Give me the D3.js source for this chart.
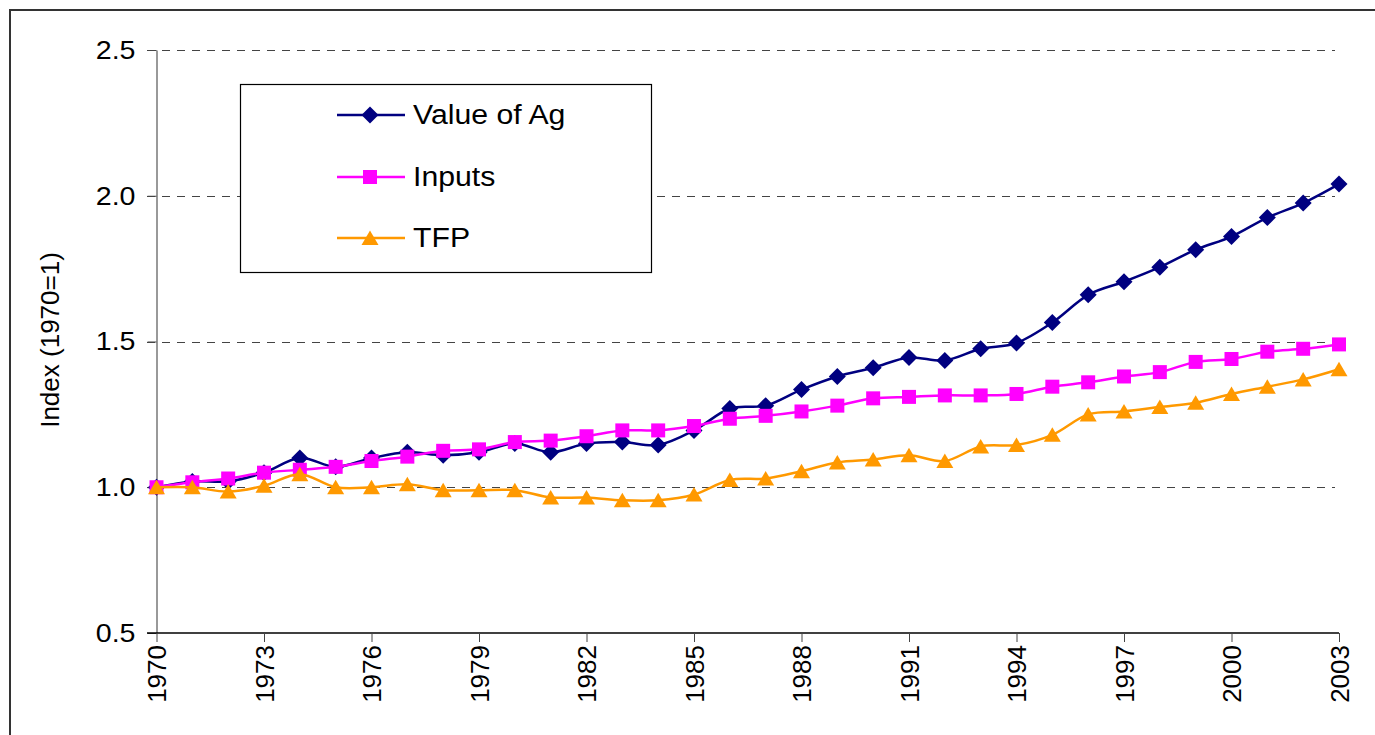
<!DOCTYPE html>
<html>
<head>
<meta charset="utf-8">
<script src="https://cdn.jsdelivr.net/npm/d3@7"></script>
<style>
  html, body { margin: 0; padding: 0; background: #fff; }
  svg { display: block; font-family: "Liberation Sans", Arial, sans-serif; }
</style>
</head>
<body>
<svg id="chart" width="1375" height="735"></svg>
<script>
// index values, 1970 = 1
const years = d3.range(1970, 2004);

const valueOfAg = [1.00, 1.02, 1.02, 1.05, 1.10, 1.07, 1.10, 1.12, 1.11, 1.12,
  1.15, 1.12, 1.15, 1.155, 1.145, 1.195, 1.27, 1.28, 1.335, 1.38,
  1.41, 1.445, 1.435, 1.475, 1.495, 1.565, 1.66, 1.705, 1.755, 1.815,
  1.86, 1.925, 1.975, 2.04];

const inputs = [1.00, 1.017, 1.03, 1.05, 1.06, 1.07, 1.09, 1.105, 1.125, 1.13,
  1.155, 1.16, 1.175, 1.195, 1.195, 1.21, 1.235, 1.245, 1.26, 1.28,
  1.305, 1.31, 1.315, 1.315, 1.32, 1.345, 1.36, 1.38, 1.395, 1.43,
  1.44, 1.465, 1.475, 1.49];

const tfp = [1.00, 1.00, 0.985, 1.005, 1.045, 1.00, 1.00, 1.01, 0.99, 0.99,
  0.99, 0.965, 0.965, 0.955, 0.955, 0.975, 1.025, 1.03, 1.055, 1.085,
  1.095, 1.11, 1.09, 1.14, 1.145, 1.18, 1.25, 1.26, 1.275, 1.29,
  1.32, 1.345, 1.37, 1.405];

const yTicks = [0.5, 1.0, 1.5, 2.0, 2.5];
const xTicks = d3.range(1970, 2004, 3);

const seriesList = [
  { name: 'Value of Ag', values: valueOfAg, color: '#000080', marker: 'diamond' },
  { name: 'Inputs', values: inputs, color: '#ff00ff', marker: 'square' },
  { name: 'TFP', values: tfp, color: '#ff9900', marker: 'triangle' },
];

const svg = d3.select('#chart');

// outer chart frame (right/bottom edges fall outside the picture)
svg.append('rect')
  .attr('x', 10).attr('y', 10)
  .attr('width', 1400).attr('height', 800)
  .attr('fill', 'none')
  .attr('stroke', '#333')
  .attr('stroke-width', 2);

const x = d3.scaleLinear().domain([1970, 2003]).range([156.5, 1339]);
const y = d3.scaleLinear().domain([0.5, 2.5]).range([633, 50]);

// dashed gridlines
svg.append('g')
  .selectAll('line')
  .data(yTicks.filter((d) => d > 0.5))
  .enter()
  .append('line')
  .attr('x1', 147)
  .attr('x2', x(2003) - 4)
  .attr('y1', (d) => Math.round(y(d)) + 0.5)
  .attr('y2', (d) => Math.round(y(d)) + 0.5)
  .attr('stroke', '#444')
  .attr('stroke-width', 1)
  .attr('stroke-dasharray', '8,7');

// y axis
const yAxis = svg.append('g')
  .attr('transform', `translate(${x(1970)},0)`)
  .call(d3.axisLeft(y).tickValues(yTicks).tickFormat(d3.format('.1f')).tickSize(9).tickSizeOuter(0));
yAxis.select('.domain').attr('stroke', '#777').attr('stroke-width', 1.5);
yAxis.selectAll('.tick line').attr('stroke', '#444');
yAxis.selectAll('.tick text')
  .attr('x', 0)
  .attr('transform', 'translate(-21,0) scale(1.1,1)')
  .attr('font-size', 26)
  .attr('font-family', '"Liberation Sans", Arial, sans-serif')
  .attr('fill', '#000');

// x axis
const xAxis = svg.append('g')
  .attr('transform', `translate(0,${y(0.5)})`)
  .call(d3.axisBottom(x).tickValues(xTicks).tickFormat(d3.format('d')).tickSize(9).tickSizeOuter(0));
xAxis.select('.domain').attr('stroke', '#000').attr('stroke-width', 1.5)
  .attr('d', `M147,0H${x(2003)}`);
xAxis.selectAll('.tick line').attr('stroke', '#444');
xAxis.selectAll('.tick text')
  .attr('font-size', 26)
  .attr('font-family', '"Liberation Sans", Arial, sans-serif')
  .attr('fill', '#000')
  .attr('transform', 'rotate(-90)')
  .attr('text-anchor', 'end')
  .attr('x', -12)
  .attr('y', 0)
  .attr('dy', '0.36em');

// y axis title
svg.append('text')
  .attr('transform', 'translate(50,340) rotate(-90)')
  .attr('text-anchor', 'middle')
  .attr('dominant-baseline', 'central')
  .attr('font-size', 26)
  .text('Index (1970=1)');

const symbolFor = {
  diamond: (g, c) => g.append('path').attr('d', 'M0,-8.5L8.5,0L0,8.5L-8.5,0Z').attr('fill', c),
  square: (g, c) => g.append('rect').attr('x', -7).attr('y', -7).attr('width', 14).attr('height', 14).attr('fill', c),
  triangle: (g, c) => g.append('path').attr('d', 'M0,-7.5L8.5,7L-8.5,7Z').attr('fill', c),
};

const line = d3.line()
  .curve(d3.curveCatmullRom.alpha(0))
  .x((d) => x(d.year))
  .y((d) => y(d.value));

seriesList.forEach((s) => {
  const pts = years.map((yr, i) => ({ year: yr, value: s.values[i] }));
  const g = svg.append('g');
  g.append('path')
    .attr('d', line(pts))
    .attr('fill', 'none')
    .attr('stroke', s.color)
    .attr('stroke-width', 2.5);
  g.selectAll('g.m')
    .data(pts)
    .enter()
    .append('g')
    .attr('class', 'm')
    .attr('transform', (d) => `translate(${x(d.year)},${y(d.value)})`)
    .each(function () { symbolFor[s.marker](d3.select(this), s.color); });
});

// legend
const legend = svg.append('g');
legend.append('rect')
  .attr('x', 240.5).attr('y', 84.5)
  .attr('width', 411).attr('height', 188)
  .attr('fill', '#fff')
  .attr('stroke', '#000')
  .attr('stroke-width', 1.2);

const legendRows = [115, 177, 238];
seriesList.forEach((s, i) => {
  const row = legend.append('g').attr('transform', `translate(0,${legendRows[i]})`);
  row.append('line')
    .attr('x1', 337).attr('x2', 405)
    .attr('stroke', s.color).attr('stroke-width', 2.5);
  symbolFor[s.marker](row.append('g').attr('transform', 'translate(370,0)'), s.color);
  row.append('text')
    .attr('transform', 'translate(413,0) scale(1.12,1)')
    .attr('dominant-baseline', 'central')
    .attr('font-size', 27)
    .text(s.name);
});
</script>
</body>
</html>
